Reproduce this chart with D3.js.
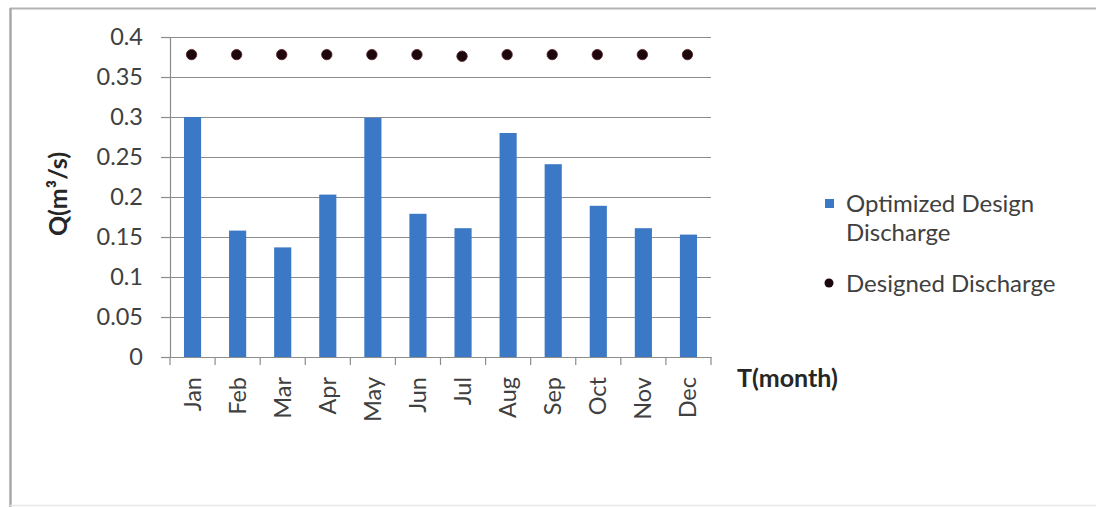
<!DOCTYPE html>
<html>
<head>
<meta charset="utf-8">
<script src="https://cdn.jsdelivr.net/npm/d3@7"></script>
<style>
  html, body { margin: 0; padding: 0; background: #ffffff; }
  svg { display: block; }
  text { font-family: Lato, "Open Sans", sans-serif; }
</style>
</head>
<body>
<svg id="chart" width="1096" height="507"></svg>
<script>
// Monthly discharge data
const months = ["Jan","Feb","Mar","Apr","May","Jun","Jul","Aug","Sep","Oct","Nov","Dec"];
const optimizedDischarge = [0.300, 0.158, 0.137, 0.203, 0.299, 0.179, 0.161, 0.280, 0.241, 0.189, 0.161, 0.153];
const designedDischarge = [0.378, 0.378, 0.378, 0.378, 0.378, 0.378, 0.376, 0.378, 0.378, 0.378, 0.378, 0.378];
const yTicks = [0, 0.05, 0.1, 0.15, 0.2, 0.25, 0.3, 0.35, 0.4];
const yTickLabels = ["0", "0.05", "0.1", "0.15", "0.2", "0.25", "0.3", "0.35", "0.4"];
const legendLabels = [["Optimized Design", "Discharge"], ["Designed Discharge"]];

const svg = d3.select("#chart");

// Outer chart frame
svg.append("line").attr("x1", 10).attr("y1", 8.5).attr("x2", 1096).attr("y2", 8.5)
  .attr("stroke", "#b4b4b4").attr("stroke-width", 2);
svg.append("line").attr("x1", 10.5).attr("y1", 8).attr("x2", 10.5).attr("y2", 507)
  .attr("stroke", "#a8a8a8").attr("stroke-width", 2.5);
svg.append("line").attr("x1", 10).attr("y1", 505.5).attr("x2", 1096).attr("y2", 505.5)
  .attr("stroke", "#e6e6e6").attr("stroke-width", 1.5);

const plot = { left: 170, top: 37, right: 711, bottom: 357 };

const x = d3.scaleBand().domain(months).range([plot.left, plot.right]).padding(0);
const y = d3.scaleLinear().domain([0, 0.4]).range([plot.bottom, plot.top]);

// Horizontal gridlines
svg.append("g")
  .attr("transform", `translate(${plot.left},0)`)
  .call(d3.axisLeft(y).tickValues(yTicks).tickSize(-(plot.right - plot.left)).tickFormat(""))
  .call(g => g.select(".domain").remove())
  .call(g => g.selectAll("line").attr("stroke", "#8c8c8c").attr("stroke-width", 1.2));

// Y axis with outward ticks and labels
svg.append("g")
  .attr("transform", `translate(${plot.left},0)`)
  .call(d3.axisLeft(y).tickValues(yTicks).tickSize(9).tickPadding(18)
    .tickFormat((d, i) => yTickLabels[i]))
  .call(g => g.select(".domain").attr("stroke", "#8c8c8c").attr("stroke-width", 1.2))
  .call(g => g.selectAll(".tick line").attr("stroke", "#8c8c8c").attr("stroke-width", 1.2))
  .call(g => g.selectAll("text").attr("fill", "#404040").style("font-size", "23.5px")
    .style("font-family", "Lato, 'Open Sans', sans-serif"));

// Bars
const barW = x.bandwidth() * 0.38;
svg.append("g").selectAll("rect")
  .data(months)
  .join("rect")
  .attr("x", (d) => x(d) + (x.bandwidth() - barW) / 2)
  .attr("y", (d, i) => y(optimizedDischarge[i]))
  .attr("width", barW)
  .attr("height", (d, i) => y(0) - y(optimizedDischarge[i]))
  .attr("fill", "#3b78c6");

// X axis baseline and category boundary ticks
svg.append("g")
  .attr("transform", `translate(0,${plot.bottom})`)
  .call(d3.axisBottom(x).tickSize(0).tickFormat(""))
  .call(g => g.select(".domain").attr("stroke", "#8c8c8c").attr("stroke-width", 1.2));
svg.append("g").selectAll("line")
  .data(months.concat(["end"]))
  .join("line")
  .attr("x1", (d) => d === "end" ? plot.right : x(d))
  .attr("x2", (d) => d === "end" ? plot.right : x(d))
  .attr("y1", plot.bottom)
  .attr("y2", plot.bottom + 8)
  .attr("stroke", "#8c8c8c").attr("stroke-width", 1.2);

// Month labels, rotated
svg.append("g").selectAll("text")
  .data(months)
  .join("text")
  .attr("transform", (d) => `translate(${x(d) + x.bandwidth() / 2 + 8},377) rotate(-90)`)
  .attr("text-anchor", "end")
  .attr("fill", "#404040")
  .style("font-size", "23.5px")
  .text((d) => d);

// Designed discharge markers
svg.append("g").selectAll("circle")
  .data(months)
  .join("circle")
  .attr("cx", (d) => x(d) + x.bandwidth() / 2 - 1)
  .attr("cy", (d, i) => y(designedDischarge[i]))
  .attr("r", 5.2)
  .attr("fill", "#1c070c")
  .attr("stroke", "#5a1a26")
  .attr("stroke-width", 0.8);

// Axis titles
svg.append("text")
  .attr("transform", "translate(67,194) rotate(-90)")
  .attr("text-anchor", "middle")
  .attr("fill", "#262626")
  .style("font-size", "25px").style("font-weight", "bold")
  .text("Q(m³/s)");
svg.append("text")
  .attr("x", 737).attr("y", 387)
  .attr("fill", "#262626")
  .style("font-size", "25px").style("font-weight", "bold")
  .text("T(month)");

// Legend
const legend = svg.append("g");
legend.append("rect").attr("x", 825).attr("y", 199).attr("width", 9).attr("height", 9).attr("fill", "#3b78c6");
legend.append("text").attr("x", 846).attr("y", 212).attr("fill", "#404040").style("font-size", "24px")
  .selectAll("tspan").data(legendLabels[0]).join("tspan")
  .attr("x", 846).attr("dy", (d, i) => i === 0 ? 0 : 29).text((d) => d);
legend.append("circle").attr("cx", 829).attr("cy", 283).attr("r", 4.5).attr("fill", "#1c070c");
legend.append("text").attr("x", 846).attr("y", 292).attr("fill", "#404040").style("font-size", "24px")
  .text(legendLabels[1][0]);
</script>
</body>
</html>
